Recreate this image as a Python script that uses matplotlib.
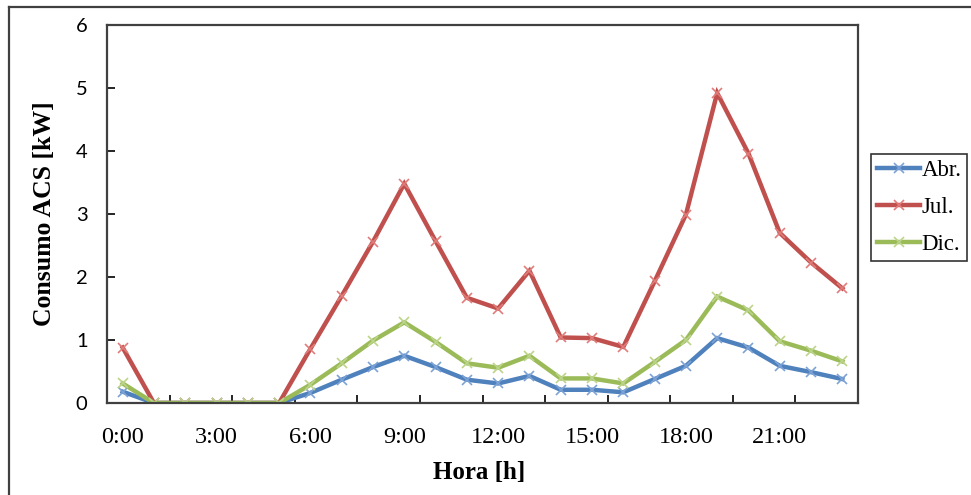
import matplotlib
matplotlib.use("Agg")
import matplotlib.pyplot as plt
from matplotlib.lines import Line2D

horas = [f"{h}:00" for h in range(24)]
abr = [0.18, 0, 0, 0, 0, 0, 0.16, 0.37, 0.57, 0.75, 0.57, 0.37, 0.31, 0.43,
       0.21, 0.21, 0.17, 0.38, 0.59, 1.03, 0.88, 0.59, 0.49, 0.38]
jul = [0.88, 0, 0, 0, 0, 0, 0.86, 1.70, 2.56, 3.48, 2.57, 1.67, 1.50, 2.10,
       1.04, 1.03, 0.89, 1.93, 2.99, 4.92, 3.96, 2.70, 2.23, 1.82]
dic = [0.31, 0, 0, 0, 0, 0, 0.29, 0.63, 0.99, 1.28, 0.97, 0.63, 0.56, 0.75,
       0.39, 0.39, 0.31, 0.65, 1.00, 1.69, 1.47, 0.98, 0.83, 0.66]
series = [("Abr.", abr, "#4F81BD", "#7DA3D6"),
          ("Jul.", jul, "#C0504D", "#E07C79"),
          ("Dic.", dic, "#9BBB59", "#BCD48A")]

serif = ["Liberation Serif", "DejaVu Serif"]

fig = plt.figure(figsize=(9.71, 4.95), dpi=100)
ax = fig.add_axes([107/971, 92/495, 751/971, 378/495])

x = list(range(len(horas)))
for name, vals, col, mcol in series:
    ax.plot(x, vals, color=col, lw=3.2, marker="x", ms=7, mew=1.2,
            mec=mcol, label=name, solid_joinstyle="miter")

ax.set_xlim(-0.5, 23.5)
ax.set_ylim(0, 6)

# labels every 3 h, tick marks every 2 categories (between them)
ax.set_xticks(x[::3], horas[::3])
ax.set_xticks([i + 1.5 for i in range(0, 22, 2)], minor=True)
ax.tick_params(axis="x", which="major", length=0, pad=17)
ax.tick_params(axis="x", which="minor", length=6, direction="in", width=1.2)
for t in ax.get_xticklabels():
    t.set_family(serif)
    t.set_fontsize(17.5)

ax.set_yticks(range(7))
ax.tick_params(axis="y", length=6, direction="in", width=1.2, pad=14)
for t in ax.get_yticklabels():
    t.set_family(["Lato", "DejaVu Sans"])
    t.set_fontsize(14.5)

for s in ax.spines.values():
    s.set_color("#404040")
    s.set_linewidth(1.6)

ax.set_xlabel("Hora [h]", family=serif, fontsize=18, fontweight="bold")
ax.xaxis.set_label_coords(0.495, -0.153)
ax.set_ylabel("Consumo ACS [kW]", family=serif, fontsize=18.5, fontweight="bold")
ax.yaxis.set_label_coords(-0.068, 0.5)

leg = fig.legend(loc="upper left", bbox_to_anchor=(871/971, 1 - 154/495),
                 borderaxespad=0, fancybox=False, handlelength=1.9,
                 handletextpad=0.05, labelspacing=0.7, borderpad=0.25,
                 numpoints=1, prop={"family": serif, "size": 16.5})
leg.get_frame().set_edgecolor("black")
leg.get_frame().set_linewidth(1.2)

# outer chart frame
fig.add_artist(Line2D([9/971, 9/971], [0, 1 - 7/495], color="#404040", lw=1.6))
fig.add_artist(Line2D([9/971, 1], [1 - 7/495, 1 - 7/495], color="#404040", lw=1.6))

fig.savefig("out.png", dpi=100)
